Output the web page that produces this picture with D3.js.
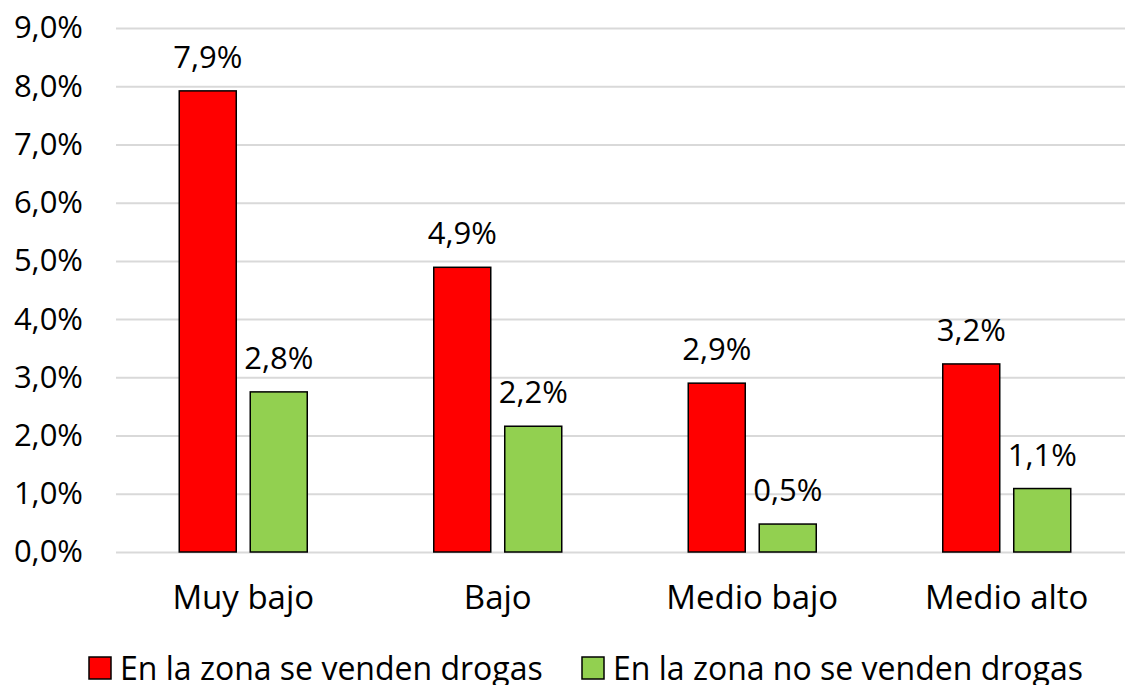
<!DOCTYPE html>
<html>
<head>
<meta charset="utf-8">
<script src="https://cdn.jsdelivr.net/npm/d3@7"></script>
<style>
  body { margin: 0; background: #fff; }
  text { font-family: 'Open Sans', sans-serif; fill: #000; }
</style>
</head>
<body>
<script>
// data
var categories = ['Muy bajo', 'Bajo', 'Medio bajo', 'Medio alto'];
var series_names = ['En la zona se venden drogas', 'En la zona no se venden drogas'];
var sold_values = [7.92, 4.89, 2.90, 3.23];
var not_sold_values = [2.75, 2.16, 0.48, 1.09];
var y_ticks = [0, 1, 2, 3, 4, 5, 6, 7, 8, 9];
var colors = ['#ff0000', '#92d050'];

var width = 1125, height = 685;
var plot_left = 116, plot_right = 1134, plot_top = 28, plot_bottom = 552;
var font = "'Open Sans', sans-serif";

var rows = categories.map(function(c, i) {
	return { cat: c, values: [sold_values[i], not_sold_values[i]] };
});

var svg = d3.select('body').append('svg')
	.attr('width', width)
	.attr('height', height);

var x0 = d3.scaleBand().domain(categories).range([plot_left, plot_right]).padding(0);
var x1 = d3.scaleBand().domain([0, 1]).range([0, 128]).paddingInner(0.197).paddingOuter(0);
var y = d3.scaleLinear().domain([0, 9]).range([plot_bottom, plot_top]);

var fmt = function(v) { return v.toFixed(1).replace('.', ',') + '%'; };

// gridlines + y labels
var yaxis = svg.append('g')
	.attr('transform', 'translate(' + plot_left + ',0)')
	.call(d3.axisLeft(y).tickValues(y_ticks).tickSize(-(plot_right - plot_left)).tickPadding(33).tickFormat(fmt));
yaxis.select('.domain').remove();
yaxis.selectAll('.tick line').attr('stroke', '#d9d9d9').attr('stroke-width', 2);
yaxis.selectAll('.tick text').attr('font-size', 31).attr('font-family', font).attr('fill', '#000');

// x labels
var xaxis = svg.append('g')
	.attr('transform', 'translate(0,' + plot_bottom + ')')
	.call(d3.axisBottom(x0).tickSize(0).tickPadding(34));
xaxis.select('.domain').remove();
xaxis.selectAll('.tick text').attr('font-size', 33).attr('font-family', font).attr('fill', '#000');

// bars
var groups = svg.selectAll('.grp').data(rows).enter().append('g')
	.attr('transform', function(d) { return 'translate(' + (x0(d.cat) + x0.bandwidth() / 2 - 64) + ',0)'; });

groups.selectAll('rect').data(function(d) { return d.values; }).enter().append('rect')
	.attr('x', function(d, i) { return x1(i); })
	.attr('y', function(d) { return y(d); })
	.attr('width', x1.bandwidth())
	.attr('height', function(d) { return y(0) - y(d); })
	.attr('fill', function(d, i) { return colors[i]; })
	.attr('stroke', '#000')
	.attr('stroke-width', 1.5);

groups.selectAll('.lbl').data(function(d) { return d.values; }).enter().append('text')
	.attr('x', function(d, i) { return x1(i) + x1.bandwidth() / 2; })
	.attr('y', function(d) { return y(d) - 23; })
	.attr('text-anchor', 'middle')
	.attr('font-size', 31)
	.text(fmt);

// legend
var legend_x = [89, 582];
var leg = svg.selectAll('.leg').data(series_names).enter().append('g')
	.attr('transform', function(d, i) { return 'translate(' + legend_x[i] + ',657)'; });
leg.append('rect')
	.attr('width', 22).attr('height', 22)
	.attr('fill', function(d, i) { return colors[i]; })
	.attr('stroke', '#000').attr('stroke-width', 1.5);
leg.append('text')
	.attr('x', 31).attr('y', 23)
	.attr('font-size', 32)
	.text(function(d) { return d; });
</script>
</body>
</html>
